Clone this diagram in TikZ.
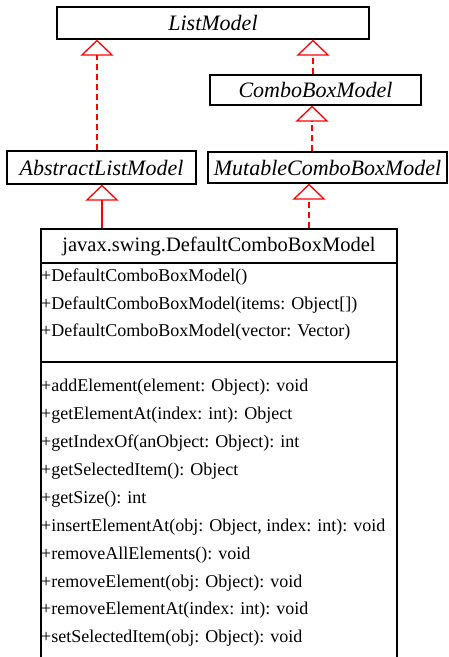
\documentclass[tikz,border=0pt]{standalone}
\usepackage{fontspec}
\setmainfont{Liberation Serif}
\usetikzlibrary{arrows.meta}

\begin{document}
\begin{tikzpicture}[
    x=1pt, y=-1pt,
    iface/.style={draw, line width=1.2pt, inner sep=0pt, font=\fontsize{22}{24}\selectfont\itshape},
    classbox/.style={draw, line width=1.2pt, inner sep=0pt},
    member/.style={anchor=west, inner sep=0pt, font=\fontsize{18}{20}\selectfont},
    realize/.style={red, line width=2.5pt, dash pattern=on 6.5pt off 3.5pt,
        -{Triangle[open, width=33pt, length=16pt, line width=1.3pt]}},
    extend/.style={red, line width=1.3pt,
        -{Triangle[open, width=33pt, length=16pt, line width=1.3pt]}}
]
\useasboundingbox (0,0) rectangle (448,657);

\node[iface, minimum width=312pt, minimum height=32pt] (listmodel) at (213,23) {ListModel};
\node[iface, minimum width=211pt, minimum height=30pt] (combo) at (315.5,90) {ComboBoxModel};
\node[iface, minimum width=189pt, minimum height=33pt] (abstract) at (101.5,167.5) {AbstractListModel};
\node[iface, minimum width=239pt, minimum height=31pt] (mutable) at (327.5,167.5) {MutableComboBoxModel};

\node[classbox, minimum width=356pt, minimum height=34pt,
      font=\fontsize{20.5}{22}\selectfont] (title) at (219,246) {javax.swing.DefaultComboBoxModel};
\node[classbox, minimum width=356pt, minimum height=99pt] (ctors) at (219,312.5) {};
% methods part runs past the bottom of the page
\node[classbox, minimum width=356pt, minimum height=302pt] (methods) at (219,513) {};

\node[member] (c1) at (41,277) {+DefaultComboBoxModel()};
\node[member] (c2) at (41,305) {+DefaultComboBoxModel(items: Object[])};
\node[member] (c3) at (41,332) {+DefaultComboBoxModel(vector: Vector)};

\node[member] (m1) at (41,387) {+addElement(element: Object): void};
\node[member] (m2) at (41,415) {+getElementAt(index: int): Object};
\node[member] (m3) at (41,443.5) {+getIndexOf(anObject: Object): int};
\node[member] (m4) at (41,471.5) {+getSelectedItem(): Object};
\node[member] (m5) at (41,499) {+getSize(): int};
\node[member] (m6) at (41,527) {+insertElementAt(obj: Object, index: int): void};
\node[member] (m7) at (41,555) {+removeAllElements(): void};
\node[member] (m8) at (41,583) {+removeElement(obj: Object): void};
\node[member] (m9) at (41,610.5) {+removeElementAt(index: int): void};
\node[member] (m10) at (41,638) {+setSelectedItem(obj: Object): void};

\draw[realize] ([xshift=-4.5pt]abstract.north) -- ([xshift=-4.5pt]abstract.north |- listmodel.south);
\draw[realize] ([xshift=-2.5pt]combo.north) -- ([xshift=-2.5pt]combo.north |- listmodel.south);
\draw[realize] ([xshift=-15.5pt]mutable.north) -- ([xshift=-15.5pt]mutable.north |- combo.south);
\draw[extend] ([xshift=-117pt]title.north) -- ([xshift=-117pt]title.north |- abstract.south);
\draw[realize] ([xshift=90pt]title.north) -- ([xshift=90pt]title.north |- mutable.south);

\end{tikzpicture}
\end{document}
